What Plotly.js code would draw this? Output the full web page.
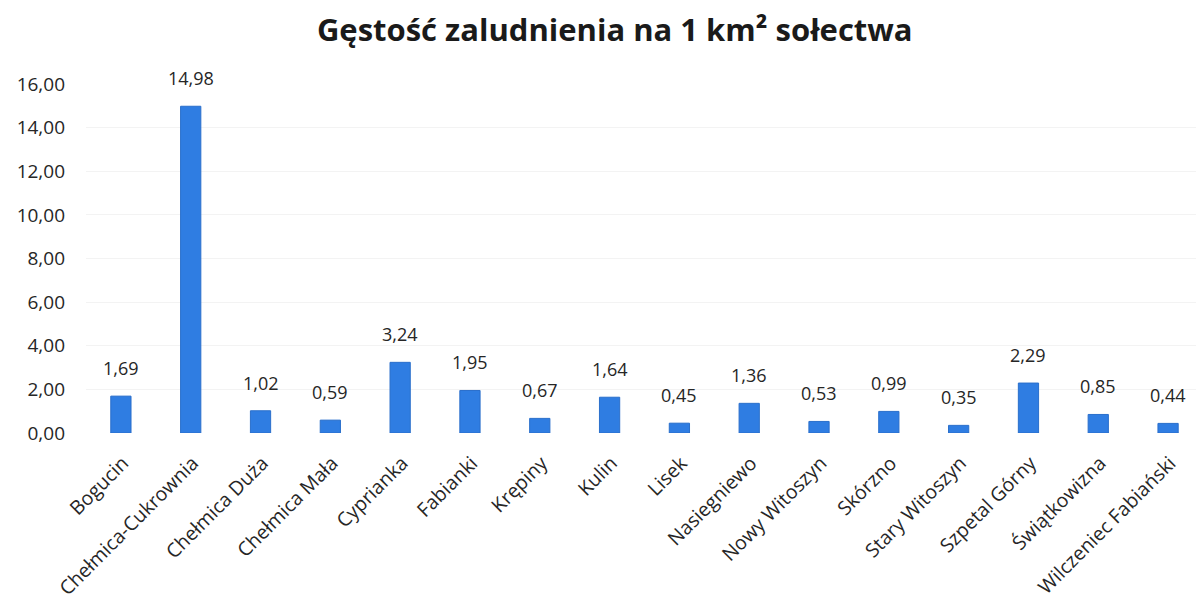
<!DOCTYPE html>
<html><head><meta charset="utf-8">
<script src="https://cdn.plot.ly/plotly-3.0.1.min.js"></script>
<style>html,body{margin:0;padding:0;background:#fff}#chart{width:1196px;height:603px}</style>
</head><body><div id="chart"></div>
<script>
const categories = ["Bogucin","Chełmica-Cukrownia","Chełmica Duża","Chełmica Mała","Cyprianka","Fabianki","Krępiny","Kulin","Lisek","Nasiegniewo","Nowy Witoszyn","Skórzno","Stary Witoszyn","Szpetal Górny","Świątkowizna","Wilczeniec Fabiański"];
const density = [1.69,14.98,1.02,0.59,3.24,1.95,0.67,1.64,0.45,1.36,0.53,0.99,0.35,2.29,0.85,0.44];
const yTicks = [0,2,4,6,8,10,12,14,16];
const titleText = "Gęstość zaludnienia na 1 km² sołectwa";

const font = "Open Sans, Noto Sans, sans-serif";
const annotations = categories.map((c, i) => ({
  x: c, y: density[i], xref: "x", yref: "y",
  text: density[i].toFixed(2).replace(".", ","),
  showarrow: false, yanchor: "bottom", yshift: 14,
  font: {family: font, size: 18, color: "#262626"}
}));
Plotly.newPlot("chart", [{
  type: "bar",
  x: categories,
  y: density,
  width: 0.29,
  marker: {color: "#2f7de2", line: {color: "#2a6fcb", width: 1}},
  hoverinfo: "x+y"
}], {
  width: 1196, height: 603,
  margin: {l: 86, r: 0, t: 84, b: 170},
  separators: ", ",
  paper_bgcolor: "#fff", plot_bgcolor: "#fff",
  title: {text: titleText, font: {family: font, size: 31, color: "#1a1a1a", weight: "bold"}, x: 0.514, xanchor: "center", y: 0.95, yanchor: "middle"},
  xaxis: {range: [-0.5, 15.4], tickangle: -45, tickfont: {family: font, size: 19.5, color: "#262626"}, showgrid: false, zeroline: false, showline: false, ticks: "", ticklabelshift: 2, ticklabelstandoff: 14},
  yaxis: {range: [0, 16], tickvals: yTicks, tickformat: ".2f", tickfont: {family: font, size: 19, color: "#262626"}, showgrid: true, gridcolor: "#f3f3f3", zeroline: false, showline: false, ticks: "", ticklabelstandoff: 20},
  annotations: annotations,
  showlegend: false,
  bargap: 0.7
}, {displayModeBar: false, staticPlot: true});
</script></body></html>
